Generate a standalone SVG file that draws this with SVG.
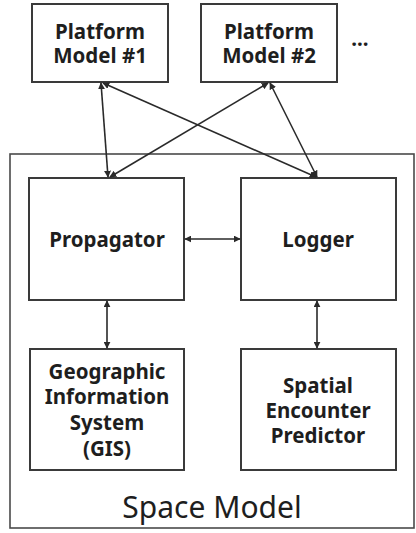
<svg xmlns="http://www.w3.org/2000/svg" width="416" height="533" viewBox="0 0 416 533">
<defs>
<style>
.box{fill:#fff;stroke:#3a3a3a;stroke-width:2}
.outer{fill:#fff;stroke:#4a4a4a;stroke-width:1.6}
.t{font-family:"Noto Sans","Open Sans",sans-serif;font-weight:bold;font-size:20.5px;fill:#1e1e1e;text-anchor:middle}
.big{font-family:"Noto Sans","Open Sans",sans-serif;font-size:30px;fill:#1e1e1e;text-anchor:middle}
.c{stroke:#2a2a2a;stroke-width:1.6;fill:none;marker-start:url(#ah);marker-end:url(#ah)}
</style>
<marker id="ah" viewBox="0 0 10 10" refX="9" refY="5" markerWidth="7" markerHeight="7" markerUnits="userSpaceOnUse" orient="auto-start-reverse">
<path d="M0,0 L10,5 L0,10 z" fill="#2a2a2a"/>
</marker>
</defs>
<g id="space-model">
<rect class="outer" x="10" y="154" width="404" height="374"/>
<text class="big" x="212" y="518">Space Model</text>
</g>
<g id="platform1">
<rect class="box" x="32" y="4" width="136" height="78"/>
<text class="t" x="100" y="39">Platform</text>
<text class="t" x="100" y="63">Model #1</text>
</g>
<g id="platform2">
<rect class="box" x="201" y="4" width="136" height="78"/>
<text class="t" x="269" y="39">Platform</text>
<text class="t" x="269" y="63">Model #2</text>
</g>
<g id="ellipsis">
<text class="t" x="360" y="46">...</text>
</g>
<g id="propagator">
<rect class="box" x="29" y="178" width="155" height="122"/>
<text class="t" x="107" y="247">Propagator</text>
</g>
<g id="logger">
<rect class="box" x="241" y="178" width="155" height="122"/>
<text class="t" x="318" y="247">Logger</text>
</g>
<g id="gis">
<rect class="box" x="30" y="349" width="154" height="121"/>
<text class="t" x="107" y="379">Geographic</text>
<text class="t" x="107" y="404">Information</text>
<text class="t" x="107" y="430">System</text>
<text class="t" x="107" y="456">(GIS)</text>
</g>
<g id="spatial">
<rect class="box" x="241" y="349" width="155" height="121"/>
<text class="t" x="318" y="393">Spatial</text>
<text class="t" x="318" y="418">Encounter</text>
<text class="t" x="318" y="443">Predictor</text>
</g>
<g id="connectors">
<line class="c" x1="101" y1="83" x2="108" y2="177"/>
<line class="c" x1="103" y1="83" x2="316" y2="177"/>
<line class="c" x1="268" y1="83" x2="110" y2="177"/>
<line class="c" x1="270" y1="83" x2="317" y2="177"/>
<line class="c" x1="185" y1="239" x2="240" y2="239"/>
<line class="c" x1="107" y1="301" x2="107" y2="348"/>
<line class="c" x1="317" y1="301" x2="317" y2="348"/>
</g>
</svg>
